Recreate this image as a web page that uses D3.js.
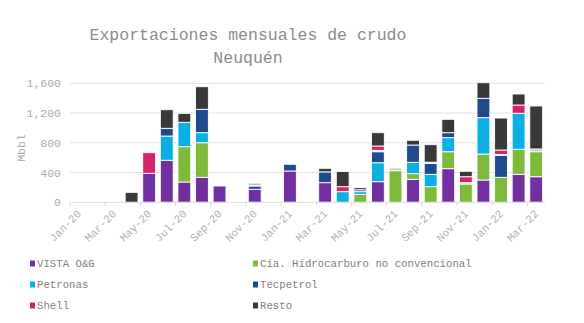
<!DOCTYPE html>
<html><head><meta charset="utf-8">
<script src="https://cdn.jsdelivr.net/npm/d3@7"></script>
<style>
html,body{margin:0;padding:0;background:#fff;}
svg{display:block;font-family:"Liberation Mono","Courier New",monospace;}
</style></head>
<body><svg id="chart" width="584" height="323"></svg>
<script>
const months = ["Jan-20","Feb-20","Mar-20","Apr-20","May-20","Jun-20","Jul-20","Aug-20","Sep-20","Oct-20","Nov-20","Dec-20",
  "Jan-21","Feb-21","Mar-21","Apr-21","May-21","Jun-21","Jul-21","Aug-21","Sep-21","Oct-21","Nov-21","Dec-21",
  "Jan-22","Feb-22","Mar-22"];
const vista     = [0,0,0,0,390,565,273,336,219,0,175,0,421,0,264,0,0,277,0,309,0,452,0,300,0,376,344];
const cia       = [0,0,0,0,0,0,475,465,0,0,0,0,0,0,0,0,107,0,425,76,210,228,246,349,336,337,336];
const petronas  = [0,0,0,0,0,326,327,135,0,0,0,0,0,0,0,143,36,255,0,153,166,189,0,489,0,484,0];
const tecpetrol = [0,0,0,0,0,104,0,314,0,0,44,0,90,0,145,0,25,148,0,232,148,67,0,260,296,0,0];
const otras     = [0,0,0,0,0,0,0,0,0,0,16,0,0,0,0,0,0,18,36,0,15,0,18,0,12,0,37];
const shell     = [0,0,0,0,277,0,0,0,0,0,0,0,0,0,0,67,0,59,0,0,0,0,80,0,59,111,0];
const resto     = [0,0,0,134,0,250,121,304,0,0,20,0,0,0,48,204,28,179,0,64,236,180,73,210,430,148,578];
const yTicks = [0,400,800,1200,1600];

const seriesNames = ["VISTA O&G","Cía. Hidrocarburo no convencional","Petronas","Tecpetrol","Otras","Shell","Resto"];
const seriesVals = [vista,cia,petronas,tecpetrol,otras,shell,resto];
const colors = ["#7030A0","#7DBA3C","#0AB0E2","#1F4A8C","#C9C9C9","#D6246A","#3B3839"];
const legendItems = [[0,0],[1,1],[2,0],[3,1],[5,0],[6,1]]; // [seriesIndex, column]

const svg = d3.select("#chart");
const x = d3.scaleBand().domain(months).range([70,545]).paddingInner(0.27).paddingOuter(0.135);
const xb = d3.scaleBand().domain(months).range([70,545]);
const y = d3.scaleLinear().domain([0,1600]).range([202.3,83.3]);

// gridlines
svg.append("g").selectAll("line").data(yTicks.slice(1)).join("line")
  .attr("x1",70).attr("x2",545).attr("y1",d=>y(d)).attr("y2",d=>y(d))
  .attr("stroke","#e3e3e3").attr("stroke-width",1);

// y labels
svg.append("g").selectAll("text").data(yTicks).join("text")
  .attr("x",61).attr("y",d=>y(d)).attr("dy","0.35em").attr("text-anchor","end")
  .attr("font-size","11.5px").attr("fill","#ababab").text(d=>d3.format(",")(d));

svg.append("text").attr("transform","translate(25,148) rotate(-90)")
  .attr("text-anchor","middle").attr("font-size","11.5px").attr("fill","#ababab").text("Mbbl");

// stacked data
const table = months.map((m,i)=>{const o={month:m}; seriesNames.forEach((s,k)=>o[s]=seriesVals[k][i]); return o;});
const stack = d3.stack().keys(seriesNames)(table);
svg.append("g").selectAll("g").data(stack).join("g").attr("fill",(d,i)=>colors[i])
  .selectAll("rect").data(d=>d.filter(p=>p[1]-p[0]>0)).join("rect")
  .attr("x",d=>x(d.data.month)).attr("width",x.bandwidth())
  .attr("y",d=>y(d[1])).attr("height",d=>y(d[0])-y(d[1]))
  .attr("stroke","#fff").attr("stroke-width",0.9);

// x axis
svg.append("line").attr("x1",70).attr("x2",545).attr("y1",y(0)).attr("y2",y(0)).attr("stroke","#d9d9d9");
const tickMonths = months.filter((m,i)=>i%2===0);
svg.append("g").selectAll("line").data(tickMonths).join("line")
  .attr("x1",d=>xb(d)).attr("x2",d=>xb(d)).attr("y1",y(0)).attr("y2",y(0)+4).attr("stroke","#d9d9d9");
svg.append("g").selectAll("text").data(tickMonths).join("text")
  .attr("transform",d=>`translate(${xb(d)+xb.bandwidth()/2+3},${y(0)+12}) rotate(-45)`)
  .attr("text-anchor","end").attr("font-size","11px").attr("fill","#b3b3b3").text(d=>d);

// title
svg.append("text").attr("x",248).attr("y",40).attr("text-anchor","middle")
  .attr("font-size","16.5px").attr("fill","#8c8c8c").text("Exportaciones mensuales de crudo");
svg.append("text").attr("x",248).attr("y",63).attr("text-anchor","middle")
  .attr("font-size","16.5px").attr("fill","#8c8c8c").text("Neuquén");

// legend
const lg = svg.append("g").selectAll("g").data(legendItems).join("g")
  .attr("transform",(d,i)=>`translate(${d[1]===0?30:253},${263.5+Math.floor(i/2)*21})`);
lg.append("rect").attr("x",0).attr("y",-3).attr("width",5).attr("height",6).attr("fill",d=>colors[d[0]]);
lg.append("text").attr("x",7).attr("y",0).attr("dy","0.35em").attr("font-size","10.7px").attr("fill","#7f7f7f")
  .text(d=>seriesNames[d[0]]);
</script></body></html>
